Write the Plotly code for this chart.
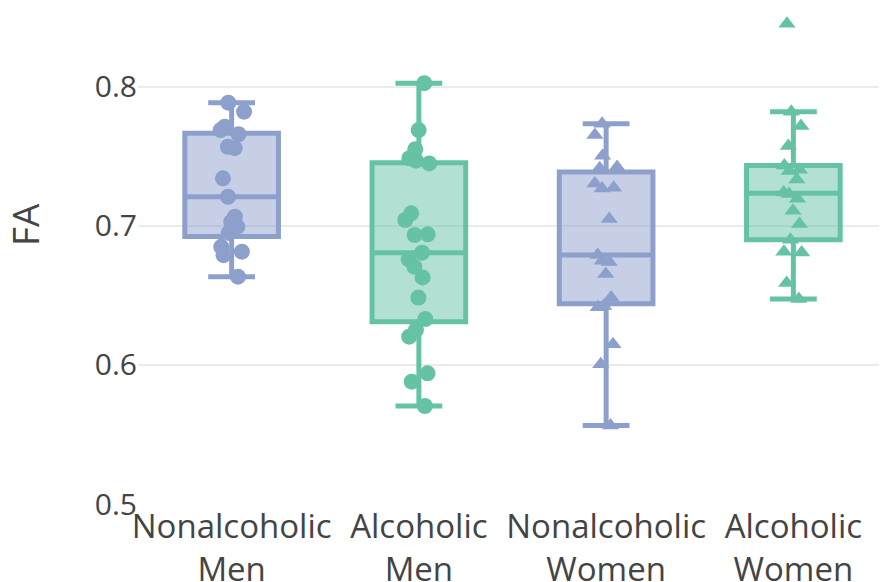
import plotly.graph_objects as go

categories = ["Nonalcoholic<br>Men", "Alcoholic<br>Men", "Nonalcoholic<br>Women", "Alcoholic<br>Women"]

nonalc_men = [0.6635, 0.679, 0.6815, 0.685, 0.695, 0.6995, 0.703, 0.7067, 0.721, 0.7343,
              0.756, 0.757, 0.766, 0.769, 0.7714, 0.7822, 0.7887]
alc_men = [0.5705, 0.588, 0.594, 0.6204, 0.6252, 0.633, 0.6485, 0.663, 0.6707, 0.676, 0.6808,
           0.6935, 0.694, 0.7043, 0.7091, 0.745, 0.747, 0.7487, 0.7552, 0.769, 0.8027]
nonalc_women = [0.5565, 0.6005, 0.615, 0.6415, 0.6425, 0.6485, 0.6655, 0.674, 0.675, 0.6792,
                0.705, 0.727, 0.7275, 0.7305, 0.7415, 0.7425, 0.7505, 0.7655, 0.7735]
alc_women = [0.6475, 0.659, 0.681, 0.6815, 0.690, 0.7015, 0.711, 0.7195, 0.723, 0.724,
             0.7335, 0.7395, 0.7405, 0.7435, 0.7575, 0.772, 0.7822, 0.8455]

y_ticks = [0.5, 0.6, 0.7, 0.8]
y_title = "FA"

BLUE = "#8DA0CB"
GREEN = "#66C2A5"

groups = [
    (categories[0], nonalc_men, BLUE, "circle", 16),
    (categories[1], alc_men, GREEN, "circle", 16),
    (categories[2], nonalc_women, BLUE, "triangle-up", 15),
    (categories[3], alc_women, GREEN, "triangle-up", 15),
]

fig = go.Figure()
for cat, vals, color, symbol, msize in groups:
    fig.add_trace(go.Box(
        x=[cat] * len(vals),
        y=vals,
        name=cat,
        boxpoints="all",
        pointpos=0,
        jitter=0.3,
        line=dict(color=color, width=5),
        marker=dict(color=color, symbol=symbol, size=msize, opacity=1),
        showlegend=False,
    ))

fig.update_layout(
    width=887,
    height=582,
    margin=dict(l=130, r=8, t=0, b=86),
    boxmode="overlay",
    boxgap=0.5,
    boxgroupgap=0,
    paper_bgcolor="white",
    plot_bgcolor="white",
    font=dict(family="Open Sans", size=30, color="#444"),
    xaxis=dict(
        categoryorder="array",
        categoryarray=categories,
        automargin=False,
        showgrid=False,
        zeroline=False,
        showline=False,
        ticks="",
        tickfont=dict(size=33),
    ),
    yaxis=dict(
        range=[0.5, 0.8568],
        automargin=False,
        tickvals=y_ticks,
        ticktext=[f"{v:.1f}" for v in y_ticks],
        tickfont=dict(size=30),
        showgrid=True,
        gridcolor="#ebebeb",
        gridwidth=2,
        zeroline=False,
        showline=False,
        ticks="",
    ),
    annotations=[dict(
        text=y_title,
        xref="paper", yref="paper",
        x=-0.1522, y=0.5625,
        xanchor="center", yanchor="middle",
        textangle=-90,
        showarrow=False,
        font=dict(family="Open Sans", size=37, color="#444"),
    )],
)

fig.write_html("out.html")
